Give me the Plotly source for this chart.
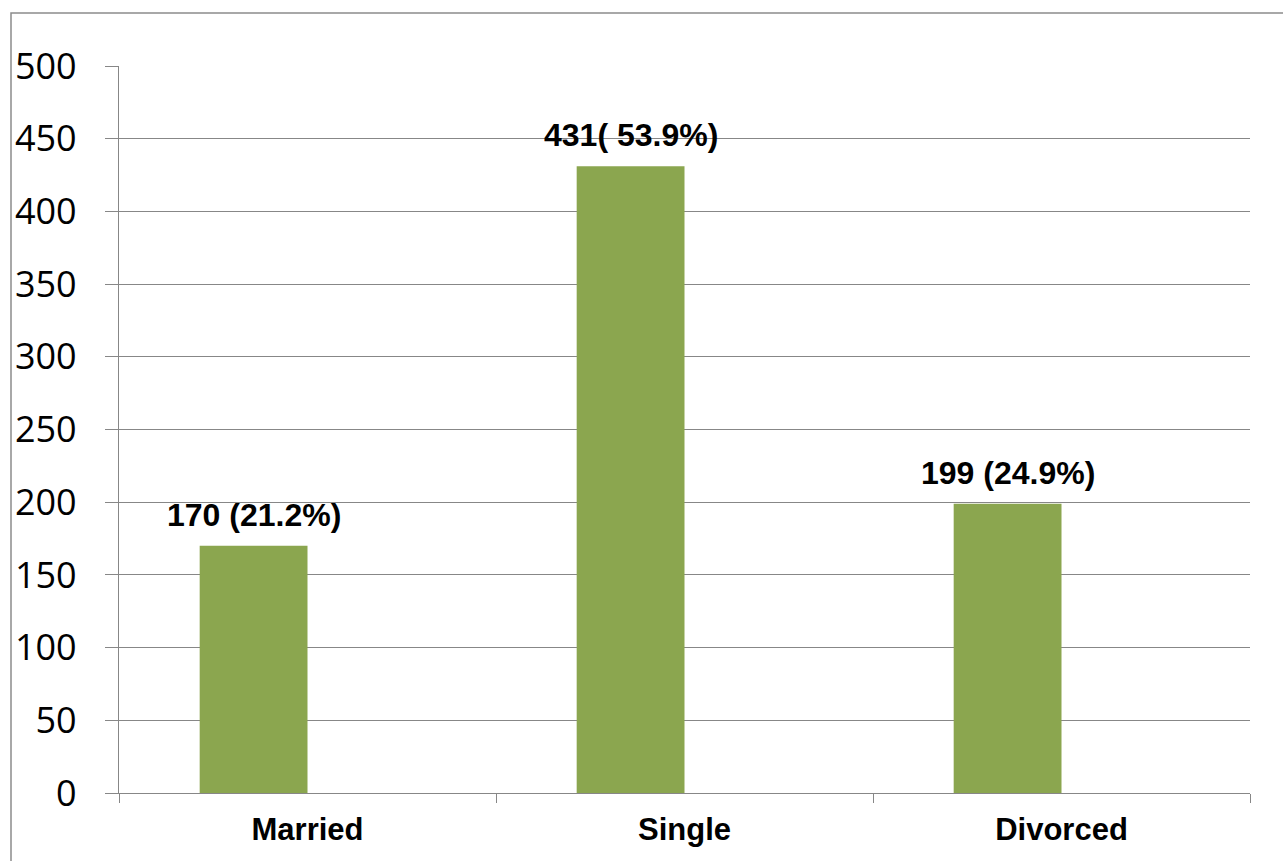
import plotly.graph_objects as go

categories = ["Married", "Single", "Divorced"]
counts = [170, 431, 199]
labels = ["170 (21.2%)", "431( 53.9%)", "199 (24.9%)"]
y_ticks = [0, 50, 100, 150, 200, 250, 300, 350, 400, 450, 500]

BAR_W = 0.286
GRID = "#878787"
GREEN = "#8BA64F"

fig = go.Figure()
fig.add_trace(go.Bar(
    x=categories, y=counts,
    width=BAR_W, offset=-BAR_W,
    marker=dict(color=GREEN, line=dict(width=0)),
    hoverinfo="skip",
))

L, R, T, B = 119, 33, 66, 68
W, H = 1283, 861
plot_w = W - L - R
cat_px = plot_w / len(categories)

for c, v, t in zip(categories, counts, labels):
    fig.add_annotation(
        x=c, y=v, text=t, showarrow=False,
        xanchor="center", yanchor="bottom",
        xshift=-BAR_W / 2 * cat_px, yshift=11,
        font=dict(family="Liberation Sans", size=32, color="black", weight="bold"),
    )

# outer border (top and left visible)
plot_h = H - T - B
fig.add_shape(type="rect", xref="paper", yref="paper",
              x0=(11 - L) / plot_w, x1=(W + 20 - L) / plot_w,
              y0=-(B + 20) / plot_h, y1=(H - B - 13) / plot_h,
              line=dict(color="#8c8c8c", width=1.5), fillcolor="rgba(0,0,0,0)", layer="below")

fig.update_layout(
    width=W, height=H,
    margin=dict(l=L, r=R, t=T, b=B),
    paper_bgcolor="white", plot_bgcolor="white",
    showlegend=False,
    xaxis=dict(
        type="category", range=[-0.5, 2.5],
        showline=True, linecolor=GRID, linewidth=1.3,
        ticks="outside", tickson="boundaries", ticklen=9, tickcolor=GRID, tickwidth=1.3,
        showgrid=False,
        tickfont=dict(family="Liberation Sans", size=31, color="black", weight="bold"),
        ticklabelstandoff=9,
    ),
    yaxis=dict(
        range=[0, 500], tickvals=y_ticks, ticktext=[str(v) for v in y_ticks],
        showline=True, linecolor=GRID, linewidth=1.3,
        ticks="outside", ticklen=13, tickcolor=GRID, tickwidth=1.3,
        showgrid=True, gridcolor=GRID, gridwidth=1.3, zeroline=False,
        tickfont=dict(family="Open Sans", size=36, color="black"),
        ticklabelstandoff=21,
    ),
)

fig.write_html("out.html")
